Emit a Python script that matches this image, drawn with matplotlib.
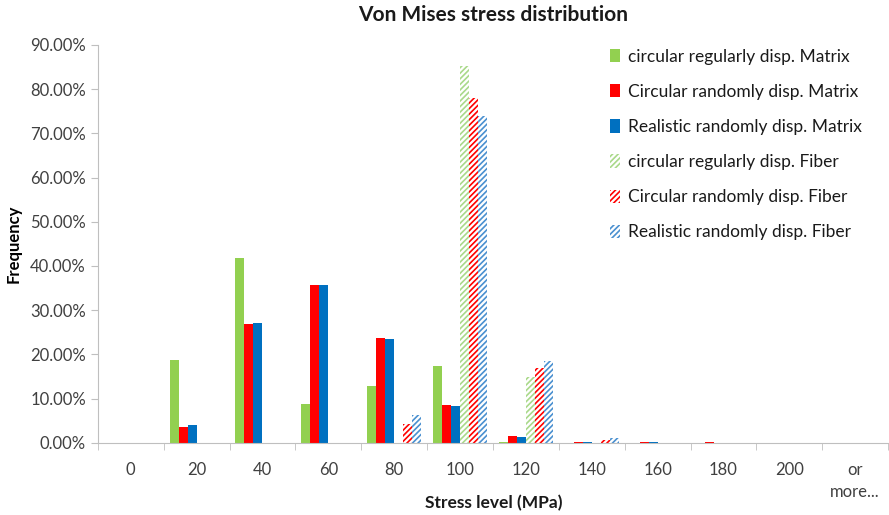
import numpy as np
import matplotlib
matplotlib.use("Agg")
import matplotlib.pyplot as plt
from matplotlib.ticker import FuncFormatter
from matplotlib.patches import Patch

plt.rcParams["font.family"] = ["Lato", "DejaVu Sans"]
plt.rcParams["hatch.linewidth"] = 1.2

# ==========================
# Data (fractions)
# ==========================
categories = ["0", "20", "40", "60", "80", "100", "120", "140", "160", "180", "200", "or\nmore..."]

circ_reg_matrix  = [0, 0.188, 0.417, 0.088, 0.129, 0.174, 0.002, 0, 0, 0, 0, 0]
circ_rand_matrix = [0, 0.036, 0.268, 0.357, 0.237, 0.085, 0.016, 0.002, 0.002, 0.002, 0, 0]
real_rand_matrix = [0, 0.041, 0.271, 0.357, 0.234, 0.084, 0.014, 0.002, 0.002, 0, 0, 0]
circ_reg_fiber   = [0, 0, 0, 0, 0, 0.853, 0.148, 0, 0, 0, 0, 0]
circ_rand_fiber  = [0, 0, 0, 0, 0.043, 0.780, 0.170, 0.006, 0, 0, 0, 0]
real_rand_fiber  = [0, 0, 0, 0, 0.063, 0.740, 0.185, 0.012, 0, 0, 0, 0]

labels = [
    "circular regularly disp. Matrix",
    "Circular randomly disp. Matrix",
    "Realistic randomly disp. Matrix",
    "circular regularly disp. Fiber",
    "Circular randomly disp. Fiber",
    "Realistic randomly disp. Fiber",
]

green = "#92D050"
red = "#FF0000"
blue = "#0070C0"
axis_gray = "#BFBFBF"
text_gray = "#404040"

series = [
    (circ_reg_matrix, green, False),
    (circ_rand_matrix, red, False),
    (real_rand_matrix, blue, False),
    (circ_reg_fiber, "#A9D98A", True),
    (circ_rand_fiber, red, True),
    (real_rand_fiber, "#4A90D0", True),
]

fig = plt.figure(figsize=(8.89, 5.15), dpi=100)
ax = fig.add_axes([0.110, 0.140, 0.889, 0.773])

x = np.arange(len(categories))
w = 0.137
offsets = (np.arange(6) - 2.5) * w

handles = []
for (vals, col, hatched), off, lab in zip(series, offsets, labels):
    if hatched:
        ax.bar(x + off, vals, width=w, facecolor="white", edgecolor=col,
               hatch="//////", linewidth=0)
        handles.append(Patch(facecolor="white", edgecolor=col, hatch="//////",
                             linewidth=0, label=lab))
    else:
        ax.bar(x + off, vals, width=w, color=col, linewidth=0)
        handles.append(Patch(facecolor=col, linewidth=0, label=lab))

ax.set_xlim(-0.5, len(categories) - 0.5)
ax.set_ylim(0, 0.9)
ax.set_yticks(np.arange(0, 0.91, 0.1))
ax.yaxis.set_major_formatter(FuncFormatter(lambda v, p: f"{v * 100:.2f}%"))

ax.set_xticks(x)
ax.set_xticklabels(categories, linespacing=1.4)
ax.set_xticks(np.arange(-0.5, len(categories), 1.0), minor=True)
ax.tick_params(axis="x", which="major", length=0, pad=14, labelsize=12, labelcolor=text_gray)
ax.tick_params(axis="x", which="minor", length=5, color=axis_gray)
ax.tick_params(axis="y", length=5, color=axis_gray, labelsize=12, labelcolor=text_gray)

for s in ["top", "right"]:
    ax.spines[s].set_visible(False)
for s in ["left", "bottom"]:
    ax.spines[s].set_color(axis_gray)

ax.set_title("Von Mises stress distribution", fontsize=15, fontweight="bold",
             pad=17, color="#1a1a1a")
fig.text(0.555, 0.023, "Stress level (MPa)", fontsize=12.5, fontweight="bold",
         ha="center", va="center", color="#1a1a1a")
ax.set_ylabel("Frequency", fontsize=12, fontweight="bold", labelpad=6)

ax.legend(handles=handles, loc="upper left", bbox_to_anchor=(0.648, 0.99),
          borderaxespad=0, borderpad=0,
          frameon=False, fontsize=12.5, handlelength=0.6, handleheight=0.8,
          handletextpad=0.45, labelspacing=1.1, labelcolor="#1a1a1a")

fig.savefig("out.png", dpi=100)
